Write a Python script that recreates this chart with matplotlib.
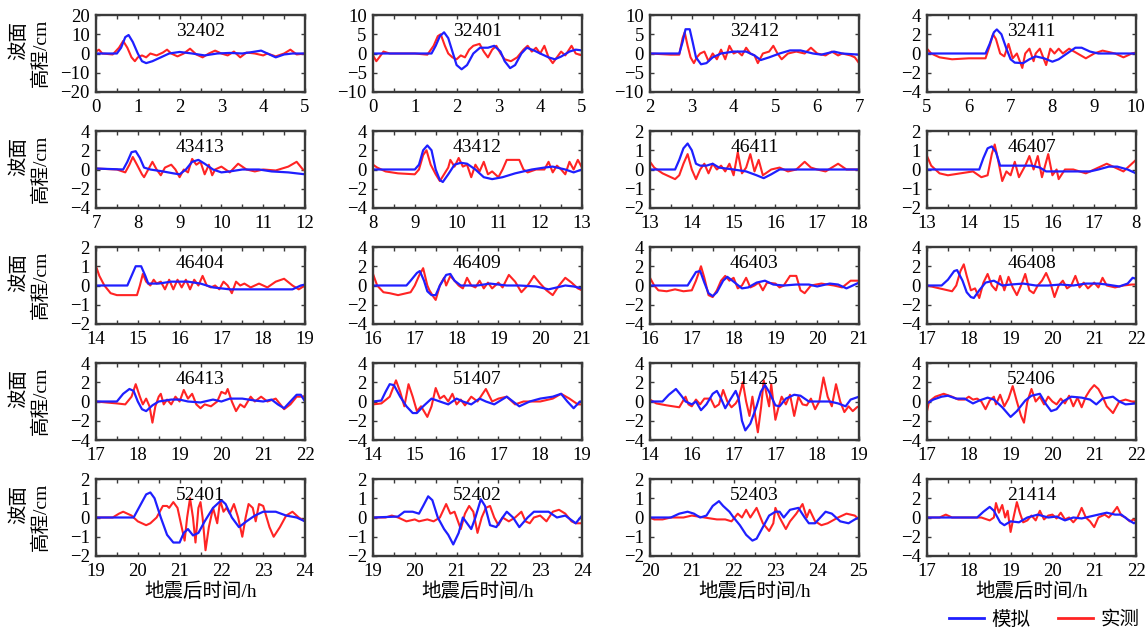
import matplotlib
matplotlib.use("Agg")
import matplotlib.pyplot as plt
from matplotlib.ticker import MultipleLocator

plt.rcParams['font.family'] = ['Liberation Serif', 'Noto Sans CJK SC']
plt.rcParams['axes.unicode_minus'] = True

# stations, x ranges and tick labels (some labels are printed that way in the original)
stations = ["32402", "32401", "32412", "32411",
            "43413", "43412", "46411", "46407",
            "46404", "46409", "46403", "46408",
            "46413", "51407", "51425", "52406",
            "52401", "52402", "52403", "21414"]
x_start = [0, 0, 2, 5,
           7, 8, 13, 13,
           14, 16, 16, 17,
           17, 14, 14, 17,
           19, 19, 20, 17]
y_max = [20, 10, 10, 4,
         4, 4, 2, 2,
         2, 4, 4, 4,
         4, 4, 4, 4,
         2, 2, 2, 4]
y_step = [10, 5, 5, 2,
          2, 2, 1, 1,
          1, 2, 2, 2,
          2, 2, 2, 2,
          1, 1, 1, 2]
special_xticklabels = {
    "46407": ["13", "14", "15", "16", "17", "8"],
    "51425": ["14", "16", "17", "17", "18", "19"],
}

# 模拟 (simulated) and 实测 (observed) waveforms, (time h, elevation cm)
sim_32402 = [(0, 0), (0.5, 0), (0.6, 3), (0.7, 8.5), (0.78, 9.6), (0.88, 6), (1.0, 0), (1.1, -4), (1.2, -5),
             (1.35, -4), (1.55, -2), (1.75, 0), (2.0, 0.8), (2.3, 0), (2.6, -1), (2.9, 0), (3.2, 0.3), (3.5, 0),
             (3.75, 0.8), (3.95, 1.5), (4.1, 0), (4.3, -2), (4.5, -0.5), (4.7, 0), (5, 0)]
obs_32402 = [(0, 1), (0.07, 2), (0.15, 0), (0.4, -0.5), (0.55, 3), (0.65, 6.5), (0.75, 3), (0.85, -2), (0.93, -4),
             (1.0, -2), (1.1, -1), (1.2, -2), (1.3, 0), (1.45, -1), (1.6, 0.5), (1.7, 2), (1.8, 0), (1.95, -1.5),
             (2.1, 0), (2.25, 2.5), (2.4, -0.5), (2.55, -2), (2.7, 0), (2.85, 1.5), (3.0, 0), (3.15, -1), (3.3, 1),
             (3.45, -2), (3.6, 0.5), (3.8, 0), (4.0, -1), (4.1, 0), (4.3, -1.5), (4.5, 0), (4.65, 2), (4.8, -0.5),
             (5, 0)]

sim_32401 = [(0, 0), (1.4, 0), (1.5, 2), (1.6, 4.5), (1.7, 5.5), (1.8, 4), (1.9, 0.5), (2.0, -3), (2.12, -4.1),
             (2.25, -3), (2.4, 0), (2.56, 1.5), (2.75, 1.5), (2.9, 2), (3.05, 0.5), (3.15, -2), (3.28, -3.8),
             (3.4, -3), (3.55, 0), (3.68, 1.5), (3.85, 0.8), (4.0, 0), (4.2, -1), (4.35, -1.5), (4.5, -0.8),
             (4.7, 0.5), (4.85, 1), (5, 0.8)]
obs_32401 = [(0, -0.5), (0.08, -2), (0.15, -1), (0.25, 0.5), (0.4, 0), (1.0, 0), (1.3, -0.3), (1.45, 2),
             (1.55, 4.5), (1.62, 5), (1.72, 2), (1.8, 0), (1.9, -1), (2.0, -1.5), (2.1, -0.5), (2.2, -1), (2.3, 1),
             (2.4, 2), (2.55, 2.5), (2.65, 0.5), (2.75, -1), (2.85, 1), (2.95, 2), (3.05, 0), (3.15, -1.5),
             (3.3, -2), (3.45, -1), (3.6, 1), (3.7, 2), (3.8, 0.5), (3.9, 1.5), (4.0, 0), (4.1, 2), (4.2, -1),
             (4.3, -2.5), (4.4, -1), (4.5, 0.5), (4.6, -0.5), (4.75, 2), (4.85, 0), (5, -0.5)]

sim_32412 = [(2, 0), (2.7, 0), (2.78, 3), (2.85, 6.3), (2.95, 6.3), (3.02, 3), (3.1, -1), (3.22, -2.8),
             (3.35, -2.5), (3.5, -1), (3.7, 0), (4.0, 0.5), (4.3, 0.5), (4.5, -0.5), (4.65, -1.7), (4.85, -1),
             (5.1, 0), (5.35, 0.8), (5.6, 0.8), (5.9, 0), (6.1, -0.3), (6.4, 0.5), (6.6, 0), (7, -0.3)]
obs_32412 = [(2, 0), (2.5, -0.3), (2.7, -0.3), (2.78, 4), (2.83, 5.5), (2.9, 2), (2.97, -1), (3.05, -2.5),
             (3.12, -1), (3.2, 0), (3.3, 0.5), (3.4, -2), (3.5, 0), (3.6, -1.5), (3.7, 1), (3.8, -1.5), (3.9, 2),
             (4.0, 0), (4.1, 0.5), (4.2, -0.5), (4.3, 1.5), (4.4, 0), (4.5, -0.5), (4.58, -2.5), (4.7, 0),
             (4.85, 0.5), (4.95, 2), (5.05, 0), (5.15, -1.5), (5.3, 0), (5.5, 0.5), (5.7, 0), (5.85, 1.5),
             (6.0, 0), (6.2, -0.5), (6.35, 0.5), (6.5, -0.5), (6.6, 0), (6.8, -0.5), (6.9, -1), (7, -2.5)]

sim_32411 = [(5, 0), (6.4, 0), (6.5, 1), (6.6, 2.2), (6.67, 2.5), (6.78, 2), (6.9, 0.5), (7.0, -0.6),
             (7.1, -0.95), (7.3, -1), (7.45, -0.6), (7.6, -0.3), (7.8, -0.5), (8.0, -0.85), (8.15, -0.6),
             (8.35, 0), (8.55, 0.6), (8.7, 0.6), (8.9, 0.2), (9.1, 0), (10, 0)]
obs_32411 = [(5, 0.5), (5.1, 0), (5.3, -0.4), (5.6, -0.6), (6.0, -0.5), (6.4, -0.5), (6.5, 0.8), (6.58, 2),
             (6.65, 1.5), (6.75, 0), (6.85, -0.3), (6.95, 1), (7.05, -0.5), (7.15, 0), (7.28, -1.5), (7.35, 0),
             (7.45, 0.5), (7.55, -0.8), (7.6, 0), (7.7, 0.5), (7.85, -1.2), (7.95, 0.5), (8.05, 0), (8.15, 0.5),
             (8.25, 0), (8.4, 0.5), (8.6, 0), (8.8, -0.5), (9.0, 0), (9.2, 0.3), (9.5, 0), (9.7, -0.4), (9.9, 0),
             (10, 0.1)]

sim_43413 = [(7, 0.1), (7.65, 0), (7.75, 0.8), (7.85, 1.8), (7.95, 1.9), (8.05, 1.2), (8.15, 0.2), (8.3, 0),
             (8.6, -0.2), (8.85, -0.4), (9.0, -0.5), (9.15, 0), (9.3, 0.8), (9.45, 1.0), (9.6, 0.6), (9.8, 0),
             (10.0, -0.3), (10.2, -0.2), (10.5, 0), (10.9, 0), (11.2, -0.2), (11.6, -0.3), (12, -0.5)]
obs_43413 = [(7, 0.1), (7.5, 0), (7.7, -0.3), (7.8, 0.5), (7.88, 1.3), (7.98, 0.5), (8.1, -0.5), (8.15, -0.8),
             (8.25, 0), (8.35, 0.8), (8.45, 0), (8.55, -0.6), (8.65, 0.2), (8.8, 0.5), (8.9, 0), (9.0, -0.8),
             (9.1, 0), (9.2, -0.3), (9.3, 1.1), (9.4, 0.5), (9.5, 0.8), (9.6, -0.5), (9.7, 0.5), (9.78, -0.6),
             (9.85, 0), (10.0, 0.3), (10.2, -0.3), (10.4, 0.6), (10.6, 0), (10.8, -0.2), (11.0, 0), (11.3, -0.1),
             (11.6, 0.3), (11.8, 0.8), (11.95, 0), (12, -0.1)]

sim_43412 = [(8, 0), (9.0, 0), (9.1, 0.5), (9.2, 2), (9.3, 2.5), (9.4, 2), (9.5, 0), (9.6, -1.1), (9.67, -1.3),
             (9.8, -0.5), (9.95, 0.5), (10.1, 0.7), (10.25, 0.6), (10.45, 0), (10.65, -0.8), (10.85, -1),
             (11.1, -0.8), (11.4, -0.4), (11.8, 0), (12.1, 0.2), (12.3, 0.3), (12.6, 0), (12.8, -0.3), (13, 0)]
obs_43412 = [(8, 0.5), (8.1, 0.2), (8.3, -0.2), (8.6, -0.4), (9.0, -0.5), (9.1, 0), (9.2, 1.5), (9.28, 2),
             (9.38, 0.5), (9.5, -0.5), (9.6, -1.2), (9.7, -0.5), (9.8, 0.2), (9.85, 1), (9.95, 0.3), (10.05, 1.2),
             (10.15, 0.3), (10.25, 0.5), (10.35, -0.8), (10.45, 0.5), (10.55, -0.2), (10.65, 0.8), (10.75, -0.5),
             (10.85, -0.2), (11.0, -0.8), (11.1, 0), (11.2, 1.0), (11.5, 1.0), (11.6, 0), (11.7, -0.3), (11.9, 0),
             (12.1, 0), (12.2, 0.8), (12.3, -0.3), (12.4, 0.4), (12.5, 0), (12.6, -0.5), (12.7, 0.8), (12.8, 0),
             (12.9, 1), (13, 0.2)]

sim_46411 = [(13, 0), (13.6, 0), (13.7, 0.5), (13.8, 1.1), (13.9, 1.35), (14.0, 1.0), (14.1, 0.3), (14.2, 0.2),
             (14.35, 0.2), (14.5, 0.3), (14.65, 0.1), (15.0, 0), (15.3, -0.1), (15.55, -0.3), (15.72, -0.45),
             (15.9, -0.25), (16.1, 0), (16.5, 0), (17.0, 0), (17.5, 0), (18, 0)]
obs_46411 = [(13, 0.4), (13.1, 0.1), (13.3, -0.2), (13.6, -0.5), (13.7, -0.3), (13.8, 0.3), (13.9, 0.8),
             (14.0, 0), (14.1, -0.5), (14.2, 0), (14.3, 0.3), (14.4, -0.2), (14.5, 0.3), (14.6, 0), (14.7, 0.2),
             (14.8, -0.1), (14.9, 0.3), (15.0, -0.3), (15.1, 0.9), (15.2, -0.2), (15.3, 0.1), (15.4, 0.8),
             (15.5, -0.1), (15.6, 0.5), (15.7, -0.3), (15.9, 0), (16.1, 0.1), (16.3, -0.1), (16.5, 0), (16.7, 0.4),
             (16.85, 0.1), (17.0, 0), (17.2, -0.1), (17.5, 0.3), (17.7, 0), (18, 0)]

sim_46407 = [(13, 0), (14.25, 0), (14.35, 0.6), (14.45, 1.1), (14.55, 1.2), (14.65, 0.9), (14.75, 0.2),
             (15.0, 0.2), (15.5, 0.2), (15.7, 0.1), (15.85, -0.1), (16.5, -0.1), (16.9, -0.1), (17.1, 0),
             (17.35, 0.15), (17.55, 0.15), (17.8, 0), (18, -0.2)]
obs_46407 = [(13, 0.7), (13.1, 0.2), (13.3, -0.2), (13.5, -0.3), (13.8, -0.2), (14.1, -0.1), (14.3, -0.4),
             (14.45, -0.3), (14.55, 0.8), (14.62, 1.3), (14.7, 0.5), (14.8, -0.6), (14.9, -0.1), (15.0, -0.3),
             (15.1, 0.4), (15.2, -0.4), (15.35, 0.2), (15.45, 0.7), (15.55, 0), (15.65, 0.7), (15.75, -0.4),
             (15.9, 0.8), (16.0, -0.3), (16.1, 0), (16.15, -0.5), (16.3, 0), (16.5, 0), (16.8, -0.2), (17.0, 0),
             (17.3, 0.3), (17.5, 0.1), (17.7, -0.1), (17.9, 0.3), (18, 0.5)]

sim_46404 = [(14, 0), (14.75, 0), (14.85, 0.5), (14.95, 1.0), (15.08, 1.0), (15.18, 0.5), (15.25, 0.1),
             (15.5, 0.1), (15.8, 0.2), (16.2, 0.2), (16.5, 0.1), (16.8, -0.1), (17.2, -0.2), (17.7, -0.2),
             (18.0, -0.2), (18.3, -0.2), (18.7, -0.2), (18.9, 0), (19, 0.05)]
obs_46404 = [(14, 1.0), (14.08, 0.5), (14.2, 0), (14.35, -0.4), (14.5, -0.5), (14.8, -0.5), (14.98, -0.5),
             (15.05, 0), (15.12, 0.6), (15.2, 0.2), (15.3, 0), (15.38, 0.3), (15.45, 0.1), (15.55, 0.2),
             (15.65, -0.2), (15.75, 0.3), (15.85, -0.2), (15.95, 0.3), (16.05, -0.1), (16.15, 0.3), (16.25, -0.2),
             (16.35, 0.3), (16.45, 0), (16.55, 0.5), (16.65, 0), (16.75, -0.1), (16.85, 0), (16.95, -0.2),
             (17.05, 0.2), (17.15, 0), (17.25, -0.4), (17.35, 0.2), (17.45, 0), (17.55, 0.1), (17.7, -0.1),
             (17.9, 0.1), (18.1, -0.1), (18.3, 0.2), (18.5, 0.35), (18.7, 0), (18.85, -0.2), (19, 0)]

sim_46409 = [(16, 0), (16.8, 0), (16.9, 0.5), (17.05, 1.3), (17.12, 1.5), (17.22, 0.5), (17.3, -0.6), (17.4, -1),
             (17.5, -1), (17.6, 0), (17.75, 1.1), (17.85, 1.2), (17.95, 0.5), (18.1, 0), (18.5, 0), (18.8, 0.2),
             (19.2, 0), (19.5, 0), (19.9, -0.1), (20.2, -0.4), (20.4, -0.2), (20.6, 0), (20.8, -0.1), (21, -0.3)]
obs_46409 = [(16, 1.2), (16.1, 0), (16.25, -0.7), (16.4, -0.8), (16.6, -1), (16.9, -0.7), (17.0, 0), (17.1, 1),
             (17.2, 1.8), (17.3, 0), (17.35, -0.5), (17.45, -1.2), (17.5, -1.5), (17.6, 0), (17.7, 0.8),
             (17.75, 0), (17.85, 1), (17.95, 0.5), (18.05, 0), (18.15, -0.3), (18.25, 0.8), (18.35, 0),
             (18.45, -0.2), (18.55, 0.5), (18.65, -0.3), (18.75, 0.3), (18.85, -0.3), (19.0, 0.3), (19.1, -0.2),
             (19.25, 1.1), (19.4, 0.4), (19.55, -0.7), (19.7, 0), (19.85, 1), (20.0, 0.2), (20.15, -0.5),
             (20.3, -1), (20.45, 0), (20.6, 0.8), (20.75, 0.3), (20.9, -0.3), (21, -0.5)]

sim_46403 = [(16, 0), (16.9, 0), (17.0, 0.7), (17.1, 1.4), (17.2, 1.5), (17.3, 0.3), (17.4, -0.8), (17.5, -1.1),
             (17.6, -0.7), (17.75, 0.5), (17.85, 0.9), (18.0, 0.4), (18.2, -0.3), (18.35, -0.2), (18.55, 0.3),
             (18.75, 0.5), (18.95, 0.1), (19.2, 0), (19.5, 0.1), (19.8, 0.1), (20.0, -0.1), (20.3, 0.2),
             (20.5, 0.1), (20.7, -0.3), (20.9, 0.1), (21, 0.3)]
obs_46403 = [(16, 0.8), (16.1, 0), (16.2, -0.5), (16.4, -0.6), (16.6, -0.4), (16.8, -0.6), (17.0, -0.5),
             (17.1, 0.5), (17.22, 2), (17.3, 0.8), (17.4, -1), (17.5, -1.2), (17.6, -0.5), (17.7, 0.5), (17.8, 1),
             (17.9, 0.5), (18.0, 0.8), (18.1, -0.3), (18.2, 0), (18.3, 0.8), (18.4, -0.2), (18.5, 0), (18.6, 0.3),
             (18.7, -0.5), (18.8, 0.3), (19.0, 0.2), (19.1, -0.2), (19.2, 0), (19.35, 1), (19.5, 1), (19.6, -0.5),
             (19.7, -0.8), (19.85, 0), (20.1, 0.2), (20.4, 0), (20.6, -0.2), (20.8, 0.5), (21, 0.5)]

sim_46408 = [(17, 0), (17.35, 0), (17.5, 0.6), (17.65, 1.5), (17.72, 1.6), (17.85, 0.5), (17.95, -0.7),
             (18.05, -1.2), (18.12, -1.3), (18.25, -0.5), (18.4, 0.3), (18.6, 0.5), (18.8, 0), (19.0, 0.1),
             (19.3, 0.2), (19.6, 0), (19.9, 0), (20.2, 0.1), (20.5, 0), (20.8, 0.2), (21.1, 0.2), (21.3, 0.1),
             (21.6, -0.1), (21.8, 0.2), (21.92, 0.8), (22, 0.7)]
obs_46408 = [(17, 0), (17.3, -0.3), (17.6, -0.6), (17.7, 0), (17.8, 1.5), (17.88, 2.2), (17.95, 1), (18.05, -0.5),
             (18.15, -0.3), (18.25, -1.3), (18.35, 0.3), (18.45, 1.2), (18.55, 0), (18.65, -0.5), (18.75, 1),
             (18.85, -0.5), (18.95, 0.9), (19.05, -0.2), (19.15, -1), (19.25, 0), (19.35, 1.2), (19.45, -0.5),
             (19.55, -0.8), (19.65, 0), (19.75, 0.5), (19.85, 1.3), (19.95, 0.3), (20.05, -1.2), (20.15, 0),
             (20.25, 0.5), (20.35, -0.3), (20.45, 0), (20.55, 1), (20.65, -0.2), (20.75, 0.3), (20.85, -0.3),
             (21.0, 0.3), (21.1, -0.2), (21.2, 0.8), (21.3, 0), (21.5, -0.2), (21.7, 0), (21.9, 0.1), (22, 0.1)]

sim_46413 = [(17, 0), (17.5, 0), (17.65, 0.8), (17.8, 1.3), (17.9, 1.1), (18.0, 0), (18.1, -0.8), (18.2, -1),
             (18.35, -0.4), (18.5, 0), (18.8, 0.2), (19.0, 0.2), (19.2, 0), (19.5, -0.1), (19.8, 0.2), (20.0, 0),
             (20.2, 0.3), (20.5, 0.3), (20.8, 0.1), (21.0, 0), (21.2, 0.2), (21.35, -0.3), (21.5, -0.7),
             (21.65, 0), (21.8, 0.7), (21.9, 0.7), (22, 0)]
obs_46413 = [(17, 0), (17.5, -0.2), (17.7, -0.3), (17.85, 0.5), (17.95, 1.8), (18.05, 0.5), (18.12, -0.3),
             (18.2, 0.3), (18.28, -0.5), (18.35, -2.2), (18.42, -0.5), (18.5, 0.5), (18.55, 0.8), (18.62, -0.3),
             (18.7, 0.2), (18.8, -0.3), (18.9, 0.5), (19.0, 0), (19.1, 1.2), (19.2, 0.3), (19.3, 0.8),
             (19.4, -0.3), (19.5, -0.7), (19.6, -0.3), (19.75, -0.5), (19.9, 0), (20.0, 1.0), (20.1, 0.8),
             (20.15, 1.3), (20.25, 0), (20.35, -1), (20.45, -0.3), (20.55, -0.6), (20.7, 0.5), (20.8, 0),
             (20.95, 0.5), (21.1, 0), (21.3, 0.3), (21.5, -0.8), (21.65, -0.3), (21.8, 0.5), (21.95, 0.5),
             (22, 0.6)]

sim_51407 = [(14, 0), (14.2, 0.1), (14.3, 1), (14.4, 1.8), (14.5, 1.7), (14.65, 0.5), (14.8, -0.5),
             (14.95, -1.2), (15.05, -1.2), (15.2, -0.5), (15.4, 0.3), (15.6, 0), (15.8, -0.3), (16.0, 0.3),
             (16.15, 0), (16.35, -0.3), (16.55, 0.3), (16.7, 0), (16.9, -0.3), (17.2, 0.5), (17.5, -0.5),
             (17.75, 0), (18.0, 0.3), (18.3, 0.5), (18.5, 0.8), (18.65, 0), (18.8, -0.7), (18.95, 0), (19, 0)]
obs_51407 = [(14, -0.3), (14.2, -0.2), (14.4, 0.5), (14.55, 2.2), (14.65, 1), (14.75, -0.5), (14.85, 1.8),
             (14.95, 0.5), (15.05, -1), (15.15, -0.5), (15.3, -1.6), (15.4, -0.5), (15.5, 1.4), (15.6, 0.3),
             (15.7, 0.6), (15.8, 0), (15.9, 0.8), (16.0, -0.3), (16.1, 0.2), (16.2, -0.4), (16.35, 0.5),
             (16.5, 0), (16.7, 1.3), (16.85, 0), (17.0, 0.3), (17.2, 0.5), (17.4, -0.3), (17.6, 0), (18.0, 0),
             (18.3, 0.3), (18.5, 0.8), (18.7, 0.3), (18.9, -0.3), (19, -0.3)]

sim_51425 = [(14, 0), (14.3, 0), (14.45, 0.7), (14.62, 1.3), (14.75, 0.6), (14.85, 0), (15.0, -0.3), (15.1, 0),
             (15.22, -0.9), (15.35, -0.3), (15.5, 0.8), (15.6, 1.1), (15.7, 0.3), (15.8, -0.7), (15.92, 0.2),
             (16.05, 1.1), (16.12, 0.3), (16.2, -2), (16.28, -3), (16.4, -2.3), (16.55, -0.5), (16.65, 1),
             (16.75, 1.7), (16.85, 1), (17.0, -0.4), (17.1, -0.5), (17.25, 0.3), (17.45, 0.7), (17.6, 0.6),
             (17.8, 0), (18.0, 0), (18.3, 0), (18.5, -0.2), (18.68, -0.5), (18.8, 0.2), (19, 0.5)]
obs_51425 = [(14, 0.2), (14.15, -0.2), (14.4, -0.4), (14.7, -0.6), (14.85, 0.5), (14.92, -0.3), (15.0, -0.5),
             (15.1, 0.2), (15.2, -0.3), (15.3, 0.3), (15.45, 0.3), (15.55, -0.6), (15.65, -0.3), (15.75, 1.2),
             (15.85, 0), (15.95, -0.6), (16.05, -0.2), (16.12, 0.3), (16.22, 2), (16.3, 0), (16.38, -1.5),
             (16.45, 0.5), (16.5, -1), (16.58, -3.2), (16.66, -0.5), (16.72, 2.2), (16.8, 0.5), (16.85, -0.5),
             (16.9, 1.8), (17.0, -1.9), (17.08, -0.5), (17.15, 0.5), (17.25, -0.3), (17.35, 0.7), (17.45, -1.5),
             (17.55, 0.5), (17.65, -0.3), (17.75, -0.4), (17.85, 0.3), (17.95, -0.8), (18.05, 0), (18.15, 2.5),
             (18.25, 0.5), (18.35, -0.5), (18.45, 1.8), (18.55, 0), (18.65, -1.1), (18.75, -0.5), (18.85, -1),
             (18.95, -0.6), (19, -0.5)]

sim_52406 = [(17, -0.2), (17.15, 0.2), (17.35, 0.5), (17.5, 0.6), (17.7, 0.3), (17.9, 0.3), (18.1, -0.2),
             (18.25, 0.1), (18.45, 0.4), (18.6, 0.2), (18.8, -0.6), (19.0, -1.6), (19.15, -1.0), (19.35, 0.1),
             (19.5, 0.6), (19.7, 0.8), (19.85, -0.3), (19.97, -1), (20.1, -0.8), (20.25, 0), (20.45, 0.5),
             (20.7, 0.4), (20.9, 0.2), (21.05, -0.3), (21.2, 0.3), (21.45, 0.5), (21.6, 0), (21.75, -0.3),
             (22, -0.2)]
obs_52406 = [(17, -1), (17.05, 0), (17.2, 0.5), (17.4, 0.8), (17.6, 0.5), (17.75, 0.2), (17.9, 0.2), (18.0, 0.5),
             (18.1, 0.2), (18.2, 0.3), (18.3, 0), (18.4, -0.8), (18.5, 0.1), (18.6, 0.5), (18.65, -0.3),
             (18.75, 0.7), (18.85, -0.5), (18.95, 0.3), (19.05, 1.6), (19.15, 0), (19.25, -1.5), (19.32, -2.2),
             (19.4, 0), (19.5, 1.3), (19.6, 0), (19.7, 0.5), (19.8, -0.3), (19.9, 0.5), (20.0, 0), (20.1, -0.3),
             (20.2, 0.3), (20.3, -0.2), (20.4, 0.6), (20.5, -0.5), (20.6, 0.4), (20.7, -0.6), (20.8, 0.5),
             (20.9, 1.2), (21.0, 1.7), (21.1, 1.3), (21.2, 0.5), (21.3, -0.5), (21.45, -1.2), (21.6, 0),
             (21.75, 0.2), (21.9, 0), (22, 0)]

sim_52401 = [(19, 0), (19.9, 0), (20.05, 0.6), (20.2, 1.2), (20.3, 1.3), (20.4, 1.0), (20.55, 0), (20.7, -0.9),
             (20.85, -1.3), (21.0, -1.3), (21.1, -0.8), (21.2, -0.6), (21.32, -0.93), (21.45, -0.8), (21.6, -0.2),
             (21.8, 0.5), (22.0, 0.9), (22.1, 0.7), (22.25, 0), (22.42, -0.5), (22.6, -0.2), (22.8, 0.1),
             (23.0, 0.3), (23.3, 0.3), (23.55, 0.1), (23.8, 0), (24, -0.2)]
obs_52401 = [(19, 0), (19.4, 0), (19.55, 0.2), (19.65, 0.3), (19.85, 0.1), (20.0, -0.2), (20.2, -0.4),
             (20.3, -0.3), (20.45, 0), (20.6, 0.6), (20.7, 0.6), (20.75, 0.5), (20.85, 0.8), (20.95, 0.5),
             (21.05, -0.5), (21.12, -1.2), (21.18, 0), (21.25, 1.0), (21.32, 0), (21.38, -1.3), (21.45, 0.5),
             (21.5, 0.8), (21.55, 0), (21.62, -1.7), (21.7, -0.5), (21.8, 0.5), (21.9, -0.3), (21.97, 0.9),
             (22.05, 0.3), (22.12, 0.5), (22.2, 0.2), (22.3, 0.7), (22.4, 0), (22.5, -1), (22.58, 0), (22.65, 0.7),
             (22.75, 0.5), (22.82, -0.2), (22.9, 0.7), (23.0, 0.6), (23.15, -0.5), (23.25, -1.0), (23.4, -0.5),
             (23.55, 0.1), (23.7, 0.3), (23.85, 0), (24, -0.2)]

sim_52402 = [(19, 0), (19.6, 0.05), (19.75, 0.3), (19.95, 0.3), (20.1, 0.2), (20.2, 0.6), (20.32, 1.1),
             (20.42, 0.9), (20.55, 0), (20.7, -0.6), (20.8, -0.9), (20.92, -1.4), (21.05, -0.8), (21.15, 0),
             (21.25, -0.3), (21.35, -0.6), (21.45, 0), (21.58, 0.95), (21.68, 0.6), (21.8, -0.4), (21.95, -0.5),
             (22.1, 0), (22.2, 0.3), (22.35, 0), (22.5, -0.5), (22.7, 0), (22.85, 0.3), (23.2, 0.3), (23.4, 0),
             (23.6, 0.1), (23.85, -0.3), (24, 0.1)]
obs_52402 = [(19, 0), (19.3, 0), (19.45, 0.1), (19.6, 0), (19.8, -0.2), (20.0, -0.1), (20.1, -0.2), (20.3, -0.1),
             (20.45, -0.2), (20.6, 0), (20.75, 0.7), (20.85, 0.2), (20.95, 0.3), (21.05, -0.3), (21.1, -0.6),
             (21.2, 0.2), (21.3, 0.6), (21.4, 0.3), (21.5, -0.8), (21.6, 0), (21.7, 0.5), (21.8, 0.6), (21.9, 0),
             (22.0, -0.4), (22.1, 0), (22.25, -0.2), (22.4, 0), (22.55, 0.3), (22.65, -0.2), (22.75, -0.3),
             (22.85, 0), (23.0, 0.1), (23.15, -0.2), (23.3, 0.3), (23.45, 0.4), (23.6, 0.2), (23.75, -0.2),
             (23.85, -0.3), (24, -0.3)]

sim_52403 = [(20, 0), (20.5, 0), (20.7, 0.2), (20.9, 0.3), (21.05, 0.2), (21.2, 0), (21.35, 0.1), (21.5, 0.6),
             (21.65, 0.85), (21.75, 0.6), (21.9, 0.3), (22.0, 0), (22.15, -0.4), (22.3, -0.9), (22.45, -1.2),
             (22.55, -1.1), (22.7, -0.5), (22.85, 0.1), (23.0, 0.3), (23.1, 0.3), (23.2, 0), (23.35, 0.4),
             (23.55, 0.5), (23.7, 0), (23.8, -0.3), (23.95, -0.3), (24.2, 0.3), (24.35, 0.2), (24.55, -0.2),
             (24.75, -0.3), (24.9, -0.1), (25, 0)]
obs_52403 = [(20, 0), (20.1, -0.1), (20.3, -0.1), (20.5, 0), (20.8, 0), (21.0, 0.1), (21.3, 0), (21.6, -0.1),
             (21.8, -0.1), (21.95, -0.2), (22.1, 0.2), (22.2, 0), (22.3, 0.4), (22.4, 0), (22.55, 0.5),
             (22.7, -0.3), (22.85, -0.7), (22.95, -0.3), (23.0, 0.5), (23.1, 0), (23.25, -0.6), (23.35, -0.2),
             (23.5, 0.2), (23.65, 0.7), (23.75, 0), (23.82, 0.4), (23.95, -0.2), (24.1, -0.4), (24.25, -0.3),
             (24.5, 0), (24.7, 0.2), (24.9, 0.1), (25, -0.1)]

sim_21414 = [(17, 0), (18.2, 0), (18.35, 0.6), (18.5, 1.1), (18.6, 0.7), (18.75, -0.5), (18.85, -0.8),
             (19.0, -0.4), (19.2, -0.5), (19.4, 0), (19.65, 0.3), (19.9, 0), (20.1, 0.1), (20.3, -0.3), (20.5, 0),
             (20.7, -0.1), (20.9, 0.1), (21.1, 0.3), (21.3, 0.5), (21.5, 0.3), (21.65, 0.3), (21.8, -0.2),
             (21.95, -0.6), (22, -0.5)]
obs_21414 = [(17, 0), (17.3, 0), (17.45, 0.3), (17.6, 0), (18.0, 0), (18.3, 0), (18.5, -0.3), (18.6, 0),
             (18.65, 1.5), (18.72, 0.5), (18.8, 1.3), (18.87, 0), (18.93, 0.7), (19.0, -1.5), (19.07, 0),
             (19.15, 1.6), (19.22, 0.5), (19.3, -0.5), (19.4, -0.3), (19.5, 0.2), (19.6, -0.3), (19.7, 0.7),
             (19.8, -0.2), (19.9, 0.2), (20.0, 0.3), (20.1, -0.1), (20.2, 0.5), (20.3, -0.2), (20.4, 0),
             (20.5, -0.5), (20.6, 0), (20.7, 1.0), (20.8, 0), (20.9, -0.4), (21.0, -1.0), (21.1, 0), (21.25, 0.3),
             (21.35, 0), (21.45, 0.5), (21.55, 1.1), (21.65, 0.2), (21.75, 0), (21.85, -0.4), (21.95, -0.2),
             (22, -0.4)]

sim_series = [sim_32402, sim_32401, sim_32412, sim_32411, sim_43413, sim_43412, sim_46411, sim_46407,
              sim_46404, sim_46409, sim_46403, sim_46408, sim_46413, sim_51407, sim_51425, sim_52406,
              sim_52401, sim_52402, sim_52403, sim_21414]
obs_series = [obs_32402, obs_32401, obs_32412, obs_32411, obs_43413, obs_43412, obs_46411, obs_46407,
              obs_46404, obs_46409, obs_46403, obs_46408, obs_46413, obs_51407, obs_51425, obs_52406,
              obs_52401, obs_52402, obs_52403, obs_21414]

W, H = 1148, 632
col_left = [96, 373, 650, 927]
row_top = [15, 131, 247, 363, 479]
ax_w, ax_h = 209, 77

SIM_COLOR = '#1f1fff'
OBS_COLOR = '#ff2424'
FRAME = '#3a3a3a'

fig = plt.figure(figsize=(W / 100, H / 100), dpi=100)

for i, name in enumerate(stations):
    r, c = divmod(i, 4)
    ax = fig.add_axes([col_left[c] / W, 1 - (row_top[r] + ax_h) / H, ax_w / W, ax_h / H])
    x0 = x_start[i]
    ts, vs = zip(*obs_series[i])
    ax.plot(ts, vs, color=OBS_COLOR, lw=1.5, solid_joinstyle='round')
    ts, vs = zip(*sim_series[i])
    ax.plot(ts, vs, color=SIM_COLOR, lw=1.6, solid_joinstyle='round')

    ax.set_xlim(x0, x0 + 5)
    ax.set_ylim(-y_max[i], y_max[i])
    ax.set_xticks(range(x0, x0 + 6))
    if name in special_xticklabels:
        ax.set_xticklabels(special_xticklabels[name])
    ax.xaxis.set_minor_locator(MultipleLocator(0.5))
    ax.set_yticks(range(-y_max[i], y_max[i] + 1, y_step[i]))
    ax.tick_params(which='both', direction='in', top=True, right=True, length=3, width=1,
                   color=FRAME, labelsize=13.5)
    ax.tick_params(axis='x', pad=5)
    ax.tick_params(axis='y', pad=4.5)
    for sp in ax.spines.values():
        sp.set_linewidth(1.7)
        sp.set_color(FRAME)

    ax.text(0.5, 0.78, name, transform=ax.transAxes, ha='center', va='center', fontsize=14)

    if r == 4:
        ax.set_xlabel('地震后时间/h', fontsize=14, labelpad=2)
    if c == 0:
        yc = row_top[r] + ax_h / 2
        fig.text(19 / W, 1 - (yc - 13) / H, '波面', rotation=90, ha='center', va='center', fontsize=14)
        fig.text(41 / W, 1 - (yc - 1) / H, '高程/cm', rotation=90, ha='center', va='center', fontsize=14)

handles = [plt.Line2D([], [], color=SIM_COLOR, lw=2), plt.Line2D([], [], color=OBS_COLOR, lw=2)]
fig.legend(handles, ['模拟', '实测'], loc='center', bbox_to_anchor=(1044 / W, 1 - 620 / H), ncol=2,
           frameon=False, fontsize=14, handlelength=1.8, handletextpad=0.4, columnspacing=1.4)

fig.savefig('out.png', dpi=100)
